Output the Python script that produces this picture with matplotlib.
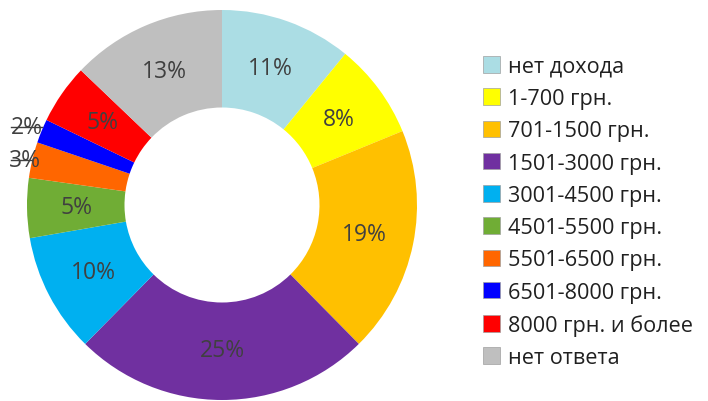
import numpy as np
import matplotlib.pyplot as plt
from matplotlib.patches import Patch

categories = ["нет дохода", "1-700 грн.", "701-1500 грн.", "1501-3000 грн.",
              "3001-4500 грн.", "4501-5500 грн.", "5501-6500 грн.",
              "6501-8000 грн.", "8000 грн. и более", "нет ответа"]
values = [11, 8, 19, 25, 10, 5, 3, 2, 5, 13]
colors = ["#ABDDE4", "#FFFF00", "#FFC000", "#7030A0", "#00B0F0",
          "#70AD35", "#FF6600", "#0000FF", "#FF0000", "#BFBFBF"]
# label offsets (dx, dy) for the small slices drawn outside the ring
outside = {"3%": (-0.036, 0.0), "2%": (-0.077, 0.02)}

plt.rcParams['font.family'] = ['Open Sans', 'DejaVu Sans']
fig = plt.figure(figsize=(7.08, 4.02), dpi=100)
ax = fig.add_axes([27 / 708, 1 / 402, 390 / 708, 390 / 402])

wedges, _ = ax.pie(values, colors=colors, startangle=90, counterclock=False,
                   radius=1, wedgeprops=dict(width=0.5, linewidth=0))
ax.set_xlim(-1, 1)
ax.set_ylim(-1, 1)
ax.set_aspect('equal')
ax.axis('off')

txtcol = "#404040"
fs = 16.5
for w, v in zip(wedges, values):
    lab = f"{v}%"
    ang = np.deg2rad((w.theta1 + w.theta2) / 2)
    if lab in outside and v <= 3:
        ex, ey = np.cos(ang), np.sin(ang)
        dx, dy = outside[lab]
        ax.plot([ex, -1.08], [ey + dy, ey + dy], color=txtcol, lw=1, clip_on=False)
        ax.text(ex + dx, ey + dy, lab, ha='center', va='center',
                fontsize=fs, color=txtcol)
    else:
        r = 0.745
        ax.text(r * np.cos(ang), r * np.sin(ang), lab, ha='center', va='center',
                fontsize=fs, color=txtcol)

handles = [Patch(facecolor=c, edgecolor='#A0A0A0', linewidth=0.5) for c in colors]
fig.legend(handles, categories, loc='upper left', bbox_to_anchor=(472 / 708, 1 - 46 / 402),
           frameon=False, fontsize=15.6, handlelength=0.8, handleheight=0.8,
           handletextpad=0.35, labelspacing=0.52, borderpad=0, labelcolor='#202020')

fig.savefig("out.png", dpi=100)
